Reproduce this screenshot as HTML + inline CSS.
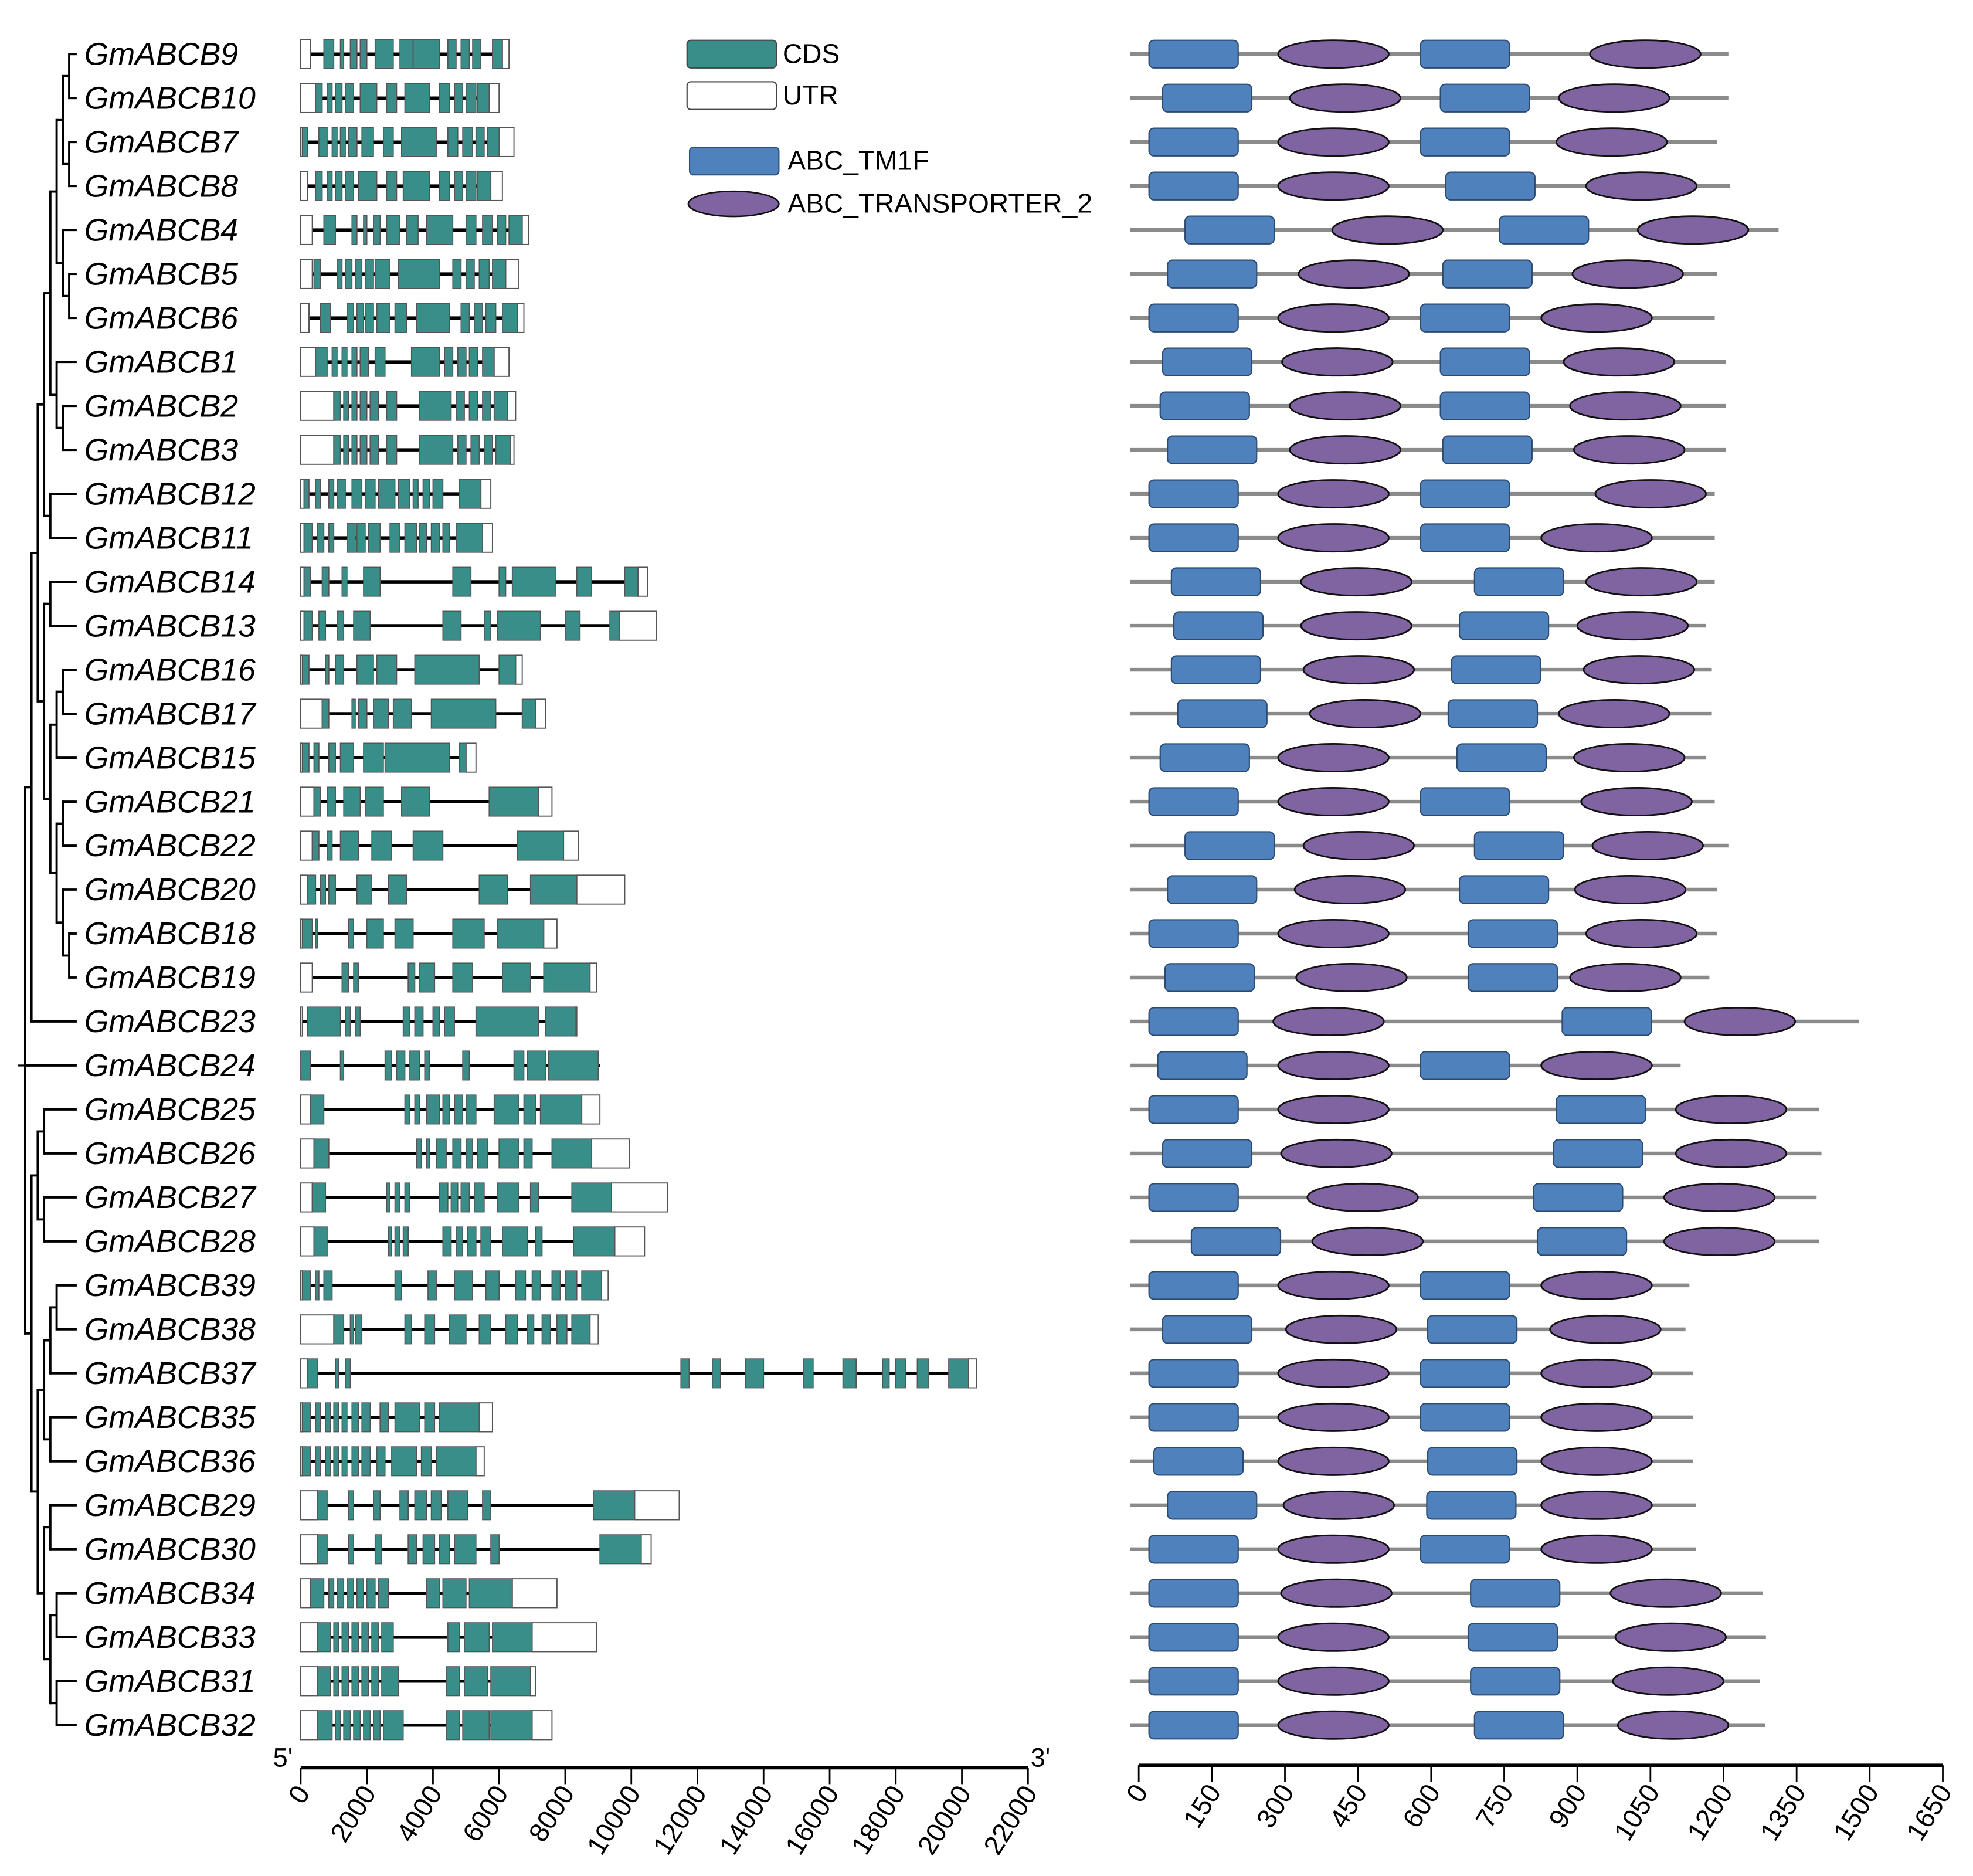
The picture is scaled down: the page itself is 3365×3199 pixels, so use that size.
<!DOCTYPE html>
<html><head><meta charset="utf-8"><style>
html,body{margin:0;padding:0;background:#fff;}
svg{display:block;}
text{font-family:"Liberation Sans",sans-serif;}
</style></head><body>
<svg id="fig" xmlns="http://www.w3.org/2000/svg" width="3365" height="3199" viewBox="0 0 1568 1491" preserveAspectRatio="none">
<g id="tree"></g>
<g id="labels"></g>
<g id="genes"></g>
<g id="prots"></g>
<g id="axes"></g>
<g id="legend">
 <rect x="546" y="32" width="71" height="22" rx="3" fill="#3a8e8a" stroke="#444" stroke-width="1"/>
 <text x="622" y="50" font-size="21.5">CDS</text>
 <rect x="546" y="65" width="71" height="22" rx="3" fill="#fff" stroke="#444" stroke-width="1"/>
 <text x="622" y="83" font-size="21.5">UTR</text>
 <rect x="548" y="117" width="71" height="22" rx="3" fill="#4f81bd" stroke="#2f4f7a" stroke-width="1"/>
 <text x="626" y="135" font-size="21.5">ABC_TM1F</text>
 <ellipse cx="583" cy="162" rx="36" ry="10" fill="#8064a2" stroke="#111" stroke-width="1.2"/>
 <text x="626" y="169" font-size="21.5">ABC_TRANSPORTER_2</text>
</g>
</svg>
<script>
const names=["GmABCB9","GmABCB10","GmABCB7","GmABCB8","GmABCB4","GmABCB5","GmABCB6","GmABCB1","GmABCB2","GmABCB3","GmABCB12","GmABCB11","GmABCB14","GmABCB13","GmABCB16","GmABCB17","GmABCB15","GmABCB21","GmABCB22","GmABCB20","GmABCB18","GmABCB19","GmABCB23","GmABCB24","GmABCB25","GmABCB26","GmABCB27","GmABCB28","GmABCB39","GmABCB38","GmABCB37","GmABCB35","GmABCB36","GmABCB29","GmABCB30","GmABCB34","GmABCB33","GmABCB31","GmABCB32"];
// gene length (kb), 5'UTR end, 3'UTR start (kb)
const geneLen=[6.3,6.0,6.45,6.1,6.9,6.6,6.75,6.3,6.5,6.45,5.75,5.8,10.5,10.75,6.7,7.4,5.3,7.6,8.4,9.8,7.75,8.95,8.35,9.05,9.05,9.95,11.1,10.4,9.3,9.0,20.45,5.8,5.55,11.45,10.6,7.75,8.95,7.1,7.6];
const utr5=[0.3,0.45,0.05,0.2,0.35,0.35,0.25,0.45,1.0,1.0,0.1,0.1,0.1,0.1,0.05,0.65,0.05,0.4,0.35,0.2,0.05,0.35,0.05,0,0.3,0.4,0.35,0.4,0.05,1.0,0.2,0.05,0.05,0.5,0.5,0.3,0.5,0.5,0.5];
const utr3=[6.1,5.7,6.0,5.75,6.7,6.2,6.55,5.85,6.25,6.35,5.45,5.5,10.2,9.65,6.5,7.1,5.0,7.2,7.95,8.35,7.35,8.75,8.3,9.05,8.5,8.8,9.4,9.5,9.1,8.75,20.2,5.4,5.3,10.1,10.3,6.4,7.0,6.95,7.0];
const exons=[
[[0.7,1.0],[1.2,1.3],[1.5,1.7],[1.8,2.0],[2.25,2.8],[3.0,3.4],[3.4,4.2],[4.45,4.7],[4.85,5.1],[5.2,5.45],[5.8,6.1]],
[[0.45,0.65],[0.8,0.95],[1.05,1.25],[1.35,1.6],[1.8,2.3],[2.6,2.9],[3.15,3.9],[4.2,4.5],[4.65,4.9],[5.0,5.3],[5.35,5.7]],
[[0.05,0.2],[0.55,0.8],[0.95,1.1],[1.2,1.35],[1.45,1.7],[1.85,2.2],[2.5,2.8],[3.05,4.1],[4.45,4.75],[4.9,5.2],[5.3,5.55],[5.65,6.0]],
[[0.45,0.65],[0.8,0.95],[1.05,1.25],[1.35,1.6],[1.75,2.3],[2.6,2.9],[3.1,3.9],[4.2,4.5],[4.65,4.9],[5.0,5.3],[5.35,5.75]],
[[0.7,1.05],[1.55,1.7],[1.9,2.0],[2.2,2.4],[2.6,3.0],[3.2,3.55],[3.8,4.6],[5.0,5.3],[5.5,5.8],[5.95,6.2],[6.3,6.7]],
[[0.4,0.6],[1.1,1.25],[1.35,1.55],[1.65,1.85],[1.95,2.2],[2.25,2.7],[2.95,4.2],[4.6,4.85],[5.0,5.25],[5.4,5.7],[5.8,6.2]],
[[0.6,0.9],[1.4,1.6],[1.7,1.9],[1.95,2.2],[2.3,2.7],[2.85,3.2],[3.5,4.5],[4.85,5.1],[5.25,5.5],[5.6,5.9],[6.1,6.55]],
[[0.45,0.8],[0.95,1.1],[1.25,1.4],[1.55,1.7],[1.8,2.05],[2.25,2.55],[3.35,4.2],[4.35,4.6],[4.75,5.0],[5.1,5.35],[5.5,5.85]],
[[1.0,1.2],[1.3,1.45],[1.55,1.7],[1.8,2.0],[2.1,2.35],[2.6,2.9],[3.6,4.55],[4.7,4.95],[5.1,5.35],[5.5,5.75],[5.85,6.25]],
[[1.0,1.2],[1.3,1.45],[1.55,1.7],[1.8,2.0],[2.1,2.35],[2.6,2.9],[3.6,4.6],[4.75,5.0],[5.15,5.4],[5.55,5.8],[5.9,6.35]],
[[0.1,0.25],[0.45,0.6],[0.85,1.0],[1.1,1.35],[1.55,1.85],[1.95,2.25],[2.35,2.85],[2.95,3.3],[3.4,3.55],[3.7,3.9],[4.0,4.3],[4.8,5.45]],
[[0.1,0.35],[0.5,0.7],[0.85,1.0],[1.4,1.65],[1.7,1.95],[2.05,2.4],[2.7,3.0],[3.15,3.5],[3.6,3.8],[3.95,4.2],[4.3,4.5],[4.7,5.5]],
[[0.1,0.3],[0.65,0.85],[1.25,1.4],[1.9,2.4],[4.6,5.15],[6.0,6.2],[6.4,7.7],[8.35,8.8],[9.8,10.2]],
[[0.1,0.35],[0.55,0.75],[1.1,1.3],[1.6,2.1],[4.3,4.85],[5.55,5.75],[5.95,7.25],[8.0,8.45],[9.35,9.65]],
[[0.05,0.25],[0.75,0.85],[1.05,1.3],[1.7,2.2],[2.3,2.9],[3.45,5.4],[6.0,6.5]],
[[0.65,0.85],[1.55,1.65],[1.75,2.0],[2.2,2.65],[2.8,3.35],[3.95,5.9],[6.7,7.1]],
[[0.05,0.25],[0.4,0.55],[0.85,1.05],[1.2,1.6],[1.9,2.5],[2.55,4.5],[4.8,5.0]],
[[0.4,0.6],[0.8,1.05],[1.3,1.8],[1.95,2.5],[3.05,3.9],[5.7,7.2]],
[[0.35,0.55],[0.8,0.95],[1.2,1.75],[2.15,2.75],[3.4,4.3],[6.55,7.95]],
[[0.2,0.45],[0.6,0.75],[0.85,1.05],[1.7,2.15],[2.65,3.2],[5.4,6.25],[6.95,8.35]],
[[0.05,0.35],[0.45,0.5],[1.45,1.6],[2.0,2.5],[2.85,3.4],[4.6,5.55],[5.95,7.35]],
[[1.25,1.45],[1.6,1.75],[3.25,3.45],[3.6,4.05],[4.6,5.2],[6.1,6.95],[7.35,8.75]],
[[0.2,1.2],[1.35,1.5],[1.65,1.8],[3.1,3.3],[3.45,3.7],[4.0,4.2],[4.35,4.65],[5.3,7.2],[7.4,8.3]],
[[0.0,0.3],[1.2,1.3],[2.55,2.75],[2.9,3.15],[3.3,3.6],[3.75,3.9],[4.9,5.1],[6.45,6.75],[6.85,7.4],[7.5,9.0]],
[[0.3,0.7],[3.15,3.3],[3.45,3.6],[3.8,4.2],[4.3,4.5],[4.65,4.9],[5.0,5.3],[5.85,6.6],[6.75,7.1],[7.25,8.5]],
[[0.4,0.85],[3.5,3.65],[3.8,3.9],[4.1,4.4],[4.6,4.85],[5.0,5.2],[5.35,5.65],[6.0,6.6],[6.75,7.0],[7.6,8.8]],
[[0.35,0.75],[2.6,2.7],[2.85,3.0],[3.15,3.3],[4.2,4.45],[4.55,4.75],[4.85,5.1],[5.25,5.55],[5.95,6.6],[6.95,7.2],[8.2,9.4]],
[[0.4,0.8],[2.65,2.75],[2.85,3.0],[3.1,3.25],[4.3,4.55],[4.7,4.9],[5.05,5.3],[5.45,5.75],[6.1,6.85],[7.1,7.3],[8.25,9.5]],
[[0.05,0.3],[0.45,0.55],[0.7,0.95],[2.85,3.05],[3.85,4.1],[4.65,5.2],[5.6,6.0],[6.5,6.8],[7.0,7.25],[7.6,7.85],[8.0,8.35],[8.5,9.1]],
[[1.0,1.3],[1.5,1.6],[1.65,1.85],[3.15,3.35],[3.75,4.05],[4.5,5.0],[5.4,5.75],[6.2,6.55],[6.85,7.05],[7.3,7.55],[7.75,8.05],[8.2,8.75]],
[[0.2,0.5],[1.05,1.15],[1.35,1.5],[11.5,11.75],[12.45,12.7],[13.45,14.0],[15.2,15.5],[16.4,16.8],[17.6,17.8],[18.0,18.3],[18.65,19.0],[19.6,20.2]],
[[0.05,0.3],[0.45,0.6],[0.75,0.9],[1.0,1.15],[1.25,1.4],[1.55,1.75],[1.85,2.1],[2.4,2.65],[2.85,3.6],[3.75,4.05],[4.2,5.4]],
[[0.05,0.3],[0.45,0.6],[0.75,0.9],[1.0,1.15],[1.25,1.4],[1.55,1.75],[1.85,2.1],[2.3,2.55],[2.75,3.5],[3.65,3.95],[4.1,5.3]],
[[0.5,0.8],[1.45,1.6],[2.2,2.4],[3.0,3.25],[3.45,3.8],[3.95,4.25],[4.45,5.05],[5.5,5.75],[8.85,10.1]],
[[0.5,0.8],[1.45,1.6],[2.25,2.45],[3.25,3.5],[3.7,4.05],[4.2,4.5],[4.65,5.3],[5.75,6.0],[9.05,10.3]],
[[0.3,0.7],[0.85,1.0],[1.1,1.3],[1.4,1.6],[1.7,1.9],[2.0,2.25],[2.35,2.65],[3.8,4.2],[4.3,5.0],[5.1,6.4]],
[[0.5,0.9],[1.0,1.15],[1.25,1.45],[1.55,1.75],[1.85,2.05],[2.15,2.35],[2.45,2.8],[4.45,4.8],[4.95,5.7],[5.8,7.0]],
[[0.5,0.9],[1.0,1.15],[1.25,1.45],[1.55,1.75],[1.85,2.05],[2.15,2.35],[2.45,2.95],[4.4,4.8],[4.95,5.65],[5.75,6.95]],
[[0.5,0.95],[1.05,1.2],[1.3,1.5],[1.6,1.8],[1.9,2.1],[2.2,2.4],[2.5,3.1],[4.4,4.8],[4.9,5.7],[5.75,7.0]]
];
// protein (aa): length, TM1 start, TR1 start, TM2 start, TR2 start
const protLen=[1210,1210,1187,1213,1313,1187,1182,1205,1205,1205,1182,1182,1182,1164,1176,1176,1164,1182,1210,1187,1187,1171,1478,1112,1396,1401,1391,1396,1130,1122,1138,1138,1138,1143,1143,1280,1287,1275,1285];
const tm1=[21,49,21,21,95,59,21,49,44,59,21,21,67,72,67,80,44,21,95,59,21,54,21,39,21,49,21,108,21,49,21,21,31,59,21,21,21,21,21];
const tr1=[286,310,286,286,397,328,286,294,310,310,286,286,333,333,338,351,286,286,338,320,286,323,276,286,286,292,346,356,286,302,286,286,286,297,286,292,286,286,286];
const tm2=[578,619,578,630,740,624,578,619,619,624,578,578,689,658,642,635,653,578,689,658,676,676,869,578,857,851,810,818,578,593,578,578,593,591,578,681,676,681,689];
const tr2=[926,862,857,918,1024,890,826,872,885,893,937,826,918,900,913,862,893,908,931,895,918,885,1120,826,1102,1102,1078,1078,826,844,826,826,826,826,826,968,978,973,983];
const tmLen=183, trLen=227;
const geneTicks=[0,2000,4000,6000,8000,10000,12000,14000,16000,18000,20000,22000];
const protTicks=[0,150,300,450,600,750,900,1050,1200,1350,1500,1650];

const NS="http://www.w3.org/2000/svg";
function mk(tag,attrs,parent){const e=document.createElementNS(NS,tag);for(const k in attrs)e.setAttribute(k,attrs[k]);parent.appendChild(e);return e;}
const rowY=i=>43+i*34.95;
const gx=kb=>239+kb*1000*(578/22000);
const px=aa=>905+aa*(639/1650);

// labels
const gl=document.getElementById('labels');
names.forEach((n,i)=>{const t=mk('text',{x:67,y:rowY(i)+8.5,'font-size':25,'font-style':'italic'},gl);t.textContent=n;

});

// genes
const gg=document.getElementById('genes');
names.forEach((n,i)=>{const y=rowY(i);const g=mk('g',{},gg);


mk('line',{x1:gx(0),x2:gx(geneLen[i]),y1:y,y2:y,stroke:'#000','stroke-width':2.6},g);
const h=23;
if(utr5[i]>0){const r=mk('rect',{x:gx(0),y:y-h/2,width:gx(utr5[i])-gx(0),height:h,fill:'#fff',stroke:'#555','stroke-width':0.9},g);

}
if(geneLen[i]-utr3[i]>0){const r=mk('rect',{x:gx(utr3[i]),y:y-h/2,width:gx(geneLen[i])-gx(utr3[i]),height:h,fill:'#fff',stroke:'#555','stroke-width':0.9},g);

}
exons[i].forEach(e=>{const r=mk('rect',{x:gx(e[0]),y:y-h/2,width:Math.max(1.5,gx(e[1])-gx(e[0])),height:h,fill:'#3a8e8a',stroke:'#555','stroke-width':0.8},g);

});
});

// proteins
const pg=document.getElementById('prots');
names.forEach((n,i)=>{const y=rowY(i);const g=mk('g',{},pg);


mk('line',{x1:px(0)-7,x2:px(protLen[i]),y1:y,y2:y,stroke:'#8a8a8a','stroke-width':3},g);
[tm1[i],tm2[i]].forEach(s=>{const r=mk('rect',{x:px(s),y:y-11,width:px(s+tmLen)-px(s),height:22,rx:4,fill:'#4f81bd',stroke:'#2c4a70','stroke-width':1},g);

});
[tr1[i],tr2[i]].forEach(s=>{const cx=(px(s)+px(s+trLen))/2;const r=mk('ellipse',{cx:cx,cy:y,rx:(px(s+trLen)-px(s))/2,ry:11,fill:'#8064a2',stroke:'#111','stroke-width':1.3},g);

});
});

// axes
const ax=document.getElementById('axes');
const ga=mk('g',{},ax);


mk('line',{x1:gx(0),x2:gx(22),y1:1405,y2:1405,stroke:'#000','stroke-width':2.6},ga);
geneTicks.forEach(v=>{const x=gx(v/1000);mk('line',{x1:x,x2:x,y1:1405,y2:1418,stroke:'#000','stroke-width':1.3},ga);
const t=mk('text',{x:x+8,y:1425,'font-size':21.5,'text-anchor':'end',transform:`rotate(-58 ${x+8} 1425)`},ga);t.textContent=v;

});
const t5=mk('text',{x:217,y:1404,'font-size':21},ga);t5.textContent="5'";


const t3=mk('text',{x:819,y:1404,'font-size':21},ga);t3.textContent="3'";


const pa=mk('g',{},ax);


mk('line',{x1:px(0),x2:px(1650),y1:1403,y2:1403,stroke:'#000','stroke-width':2.6},pa);
protTicks.forEach(v=>{const x=px(v);mk('line',{x1:x,x2:x,y1:1403,y2:1416,stroke:'#000','stroke-width':1.3},pa);
const t=mk('text',{x:x+8,y:1424,'font-size':21.5,'text-anchor':'end',transform:`rotate(-58 ${x+8} 1424)`},pa);t.textContent=v;

});

// tree
function n(x,c){return {x:x,c:c};}
const treeData=n(20,[ n(25,[ n(30,[ n(35,[ n(40,[ n(45,[ n(50,[n(55,[0,1]),n(55,[2,3])]), n(50,[4,n(55,[5,6])]) ]), n(45,[7,n(50,[8,9])]) ]), n(40,[10,11]) ]), n(35,[ n(40,[12,13]), n(40,[ n(45,[n(50,[14,15]),16]), n(45,[n(50,[17,18]), n(50,[19,n(55,[20,21])])]) ]) ]) ]), 22 ]), 23, n(25,[ n(30,[n(35,[24,25]),n(35,[26,27])]), n(30,[ n(35,[ n(40,[n(45,[28,29]),30]), n(40,[31,32]) ]), n(35,[ n(40,[33,34]), n(40,[n(45,[35,36]),n(45,[37,38])]) ]) ]) ]) ]);
const tg=document.getElementById('tree');
const LEAFX=61;
function draw(node){
 if(typeof node==='number') return {x:LEAFX,y:rowY(node)};
 const ch=node.c.map(draw);
 const ys=ch.map(c=>c.y);const y0=Math.min(...ys),y1=Math.max(...ys);
 mk('line',{x1:node.x,x2:node.x,y1:y0,y2:y1,stroke:'#000','stroke-width':1.8,'stroke-linecap':'square'},tg);
 ch.forEach(c=>mk('line',{x1:node.x,x2:c.x,y1:c.y,y2:c.y,stroke:'#000','stroke-width':1.8},tg));
 return {x:node.x,y:(y0+y1)/2};
}
draw(treeData);
mk('line',{x1:14,x2:20,y1:rowY(23),y2:rowY(23),stroke:'#000','stroke-width':1.5},tg);
</script>
</body></html>
